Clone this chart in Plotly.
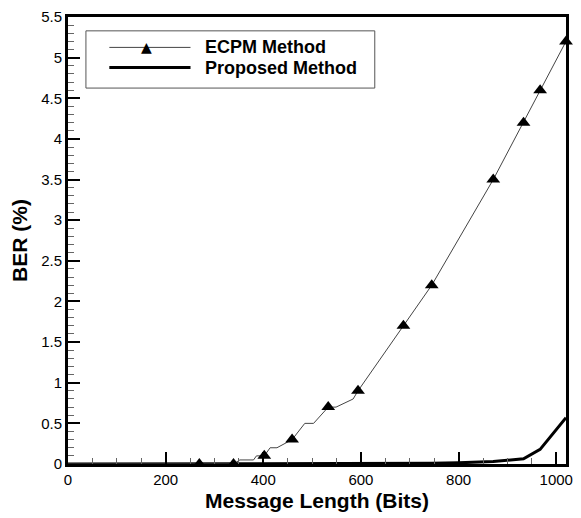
import plotly.graph_objects as go

# ---- data ----
series_names = ["ECPM Method", "Proposed Method"]

# ECPM: marker points
ecpm_marker_x = [269, 339, 402, 459, 533, 594, 687, 745, 871, 933, 967, 1020]
ecpm_marker_y = [0, 0, 0.1, 0.3, 0.7, 0.9, 1.7, 2.2, 3.5, 4.2, 4.6, 5.2]

# ECPM: line vertices (stepped curve)
ecpm_line_x = [0, 269, 339, 352, 380, 386, 402, 414, 428, 459, 485, 503, 533, 549, 584, 594,
               687, 721, 745, 871, 933, 967, 1020]
ecpm_line_y = [0, 0, 0, 0.05, 0.05, 0.1, 0.1, 0.2, 0.2, 0.3, 0.5, 0.5, 0.7, 0.7, 0.8, 0.9,
               1.7, 2.0, 2.2, 3.5, 4.2, 4.6, 5.2]

# Proposed method
prop_x = [0, 269, 339, 402, 459, 533, 594, 687, 745, 800, 871, 933, 967, 1020]
prop_y = [0, 0, 0, 0, 0, 0, 0, 0.003, 0.008, 0.015, 0.03, 0.065, 0.18, 0.57]

x_tick_vals = [0, 200, 400, 600, 800, 1000]
y_tick_vals = [0, 0.5, 1, 1.5, 2, 2.5, 3, 3.5, 4, 4.5, 5, 5.5]
x_title = "Message Length (Bits)"
y_title = "BER (%)"

FONT = "Arial, Liberation Sans, Helvetica, sans-serif"

fig = go.Figure()
fig.add_trace(go.Scatter(x=prop_x, y=prop_y, mode="lines",
                         line=dict(color="black", width=3),
                         name=series_names[1], showlegend=False, cliponaxis=False))
fig.add_trace(go.Scatter(x=ecpm_line_x, y=ecpm_line_y, mode="lines",
                         line=dict(color="#444444", width=1),
                         name=series_names[0], showlegend=False, cliponaxis=False))
fig.add_trace(go.Scatter(x=ecpm_marker_x, y=ecpm_marker_y, mode="markers",
                         marker=dict(symbol="triangle-up", size=12, color="black"),
                         name=series_names[0], showlegend=False, cliponaxis=False))

# ---- hand-drawn legend (paper coords) ----
shapes = [
    dict(type="rect", xref="paper", yref="paper", x0=0.036, x1=0.616, y0=0.841, y1=0.969,
         line=dict(color="#555555", width=1), fillcolor="white", layer="below"),
    dict(type="line", xref="paper", yref="paper", x0=0.083, x1=0.246, y0=0.932, y1=0.932,
         line=dict(color="#444444", width=1)),
    dict(type="line", xref="paper", yref="paper", x0=0.083, x1=0.246, y0=0.887, y1=0.887,
         line=dict(color="black", width=3)),
]
annotations = [
    dict(xref="paper", yref="paper", x=0.158, y=0.934, text="▲", showarrow=False,
         font=dict(size=14, color="black", family="DejaVu Sans"), xanchor="center", yanchor="middle"),
    dict(xref="paper", yref="paper", x=0.271, y=0.932, text="<b>%s</b>" % series_names[0],
         showarrow=False, font=dict(size=18, color="black", family=FONT),
         xanchor="left", yanchor="middle"),
    dict(xref="paper", yref="paper", x=0.271, y=0.887, text="<b>%s</b>" % series_names[1],
         showarrow=False, font=dict(size=18, color="black", family=FONT),
         xanchor="left", yanchor="middle"),
]

axis_common = dict(
    showgrid=False, zeroline=False,
    showline=True, linecolor="black", linewidth=3, mirror=True,
    ticks="inside", ticklen=12, tickwidth=2, tickcolor="black",
    tickfont=dict(size=15, color="black", family=FONT),
)

fig.update_layout(
    width=581, height=518,
    margin=dict(l=68, r=8, t=13, b=52),
    paper_bgcolor="white", plot_bgcolor="white",
    font=dict(family=FONT, color="black"),
    shapes=shapes, annotations=annotations,
    xaxis=dict(range=[0, 1020], tickvals=x_tick_vals,
               minor=dict(dtick=50, tick0=0, ticks="inside", ticklen=6, tickwidth=1, tickcolor="#666666"),
               title=dict(text="<b>%s</b>" % x_title, font=dict(size=21, family=FONT), standoff=7),
               **axis_common),
    yaxis=dict(range=[0, 5.5], tickvals=y_tick_vals,
               minor=dict(dtick=0.1, tick0=0, ticks="inside", ticklen=6, tickwidth=1, tickcolor="#666666"),
               title=dict(text="<b>%s</b>" % y_title, font=dict(size=21, family=FONT), standoff=8),
               **axis_common),
)

fig.write_html("out.html")
